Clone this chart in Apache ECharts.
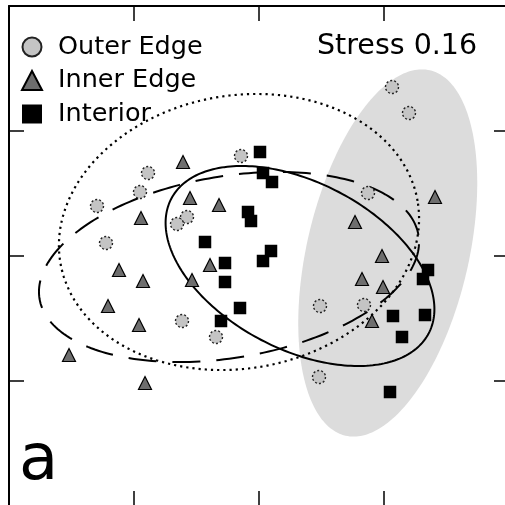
<!DOCTYPE html>
<html><head><meta charset="utf-8">
<script src="https://cdn.jsdelivr.net/npm/echarts@6/dist/echarts.min.js"></script>
<style>html,body{margin:0;padding:0;background:#fff}#c{width:505px;height:505px}</style>
</head><body><div id="c"></div>
<script>
// NMDS ordination scores (axis 1, axis 2)
const outerEdge = [
  [-0.144, 0.80], [-0.888, 0.664], [-0.952, 0.512], [-1.296, 0.40], [-0.576, 0.312],
  [-0.656, 0.256], [-1.224, 0.104], [1.064, 1.352], [1.20, 1.144], [0.872, 0.504],
  [-0.616, -0.52], [-0.344, -0.648], [0.488, -0.40], [0.84, -0.392], [0.48, -0.968]
];
const innerEdge = [
  [-0.608, 0.752], [-0.552, 0.464], [-0.32, 0.408], [-0.944, 0.304], [-1.12, -0.112],
  [-0.928, -0.20], [-0.536, -0.192], [-0.392, -0.072], [-1.208, -0.40], [-0.96, -0.552],
  [-1.52, -0.792], [-0.912, -1.016], [1.408, 0.472], [0.768, 0.272], [0.984, 0.0],
  [0.824, -0.184], [0.992, -0.248], [0.904, -0.52]
];
const interior = [
  [0.008, 0.832], [0.032, 0.664], [0.104, 0.592], [-0.088, 0.352], [-0.064, 0.28],
  [-0.432, 0.112], [-0.272, -0.056], [-0.272, -0.208], [-0.152, -0.416], [-0.304, -0.52],
  [0.032, -0.04], [0.096, 0.04], [1.352, -0.112], [1.312, -0.184], [1.072, -0.48],
  [1.328, -0.472], [1.144, -0.648], [1.048, -1.088]
];
// ellipses: [centre x, centre y, semi-major, semi-minor, angle in degrees]
const ellipseShaded = [1.03, 0.024, 1.50, 0.648, 77];
const ellipseDotted = [-0.16, 0.192, 1.45, 1.092, 9.9];
const ellipseDashed = [-0.24, -0.088, 1.537, 0.726, 9.6];
const ellipseSolid  = [0.328, -0.08, 1.162, 0.668, -27.6];
const seriesNames = ['Outer Edge', 'Inner Edge', 'Interior'];
const axisMin = -2, axisMax = 2, axisStep = 1;
const stressLabel = 'Stress 0.16';
const panelLabel = 'a';

function ellipsePoints(e, n) {
  const [cx, cy, a, b, deg] = e;
  const t = deg * Math.PI / 180, pts = [];
  for (let i = 0; i < n; i++) {
    const s = 2 * Math.PI * i / n;
    const x = a * Math.cos(s), y = b * Math.sin(s);
    pts.push([cx + x * Math.cos(t) - y * Math.sin(t), cy + x * Math.sin(t) + y * Math.cos(t)]);
  }
  return pts;
}
function ellipseSeries(e, style, z) {
  return {
    type: 'custom', coordinateSystem: 'cartesian2d', silent: true, z: z,
    data: [[e[0], e[1]]],
    renderItem: function (params, api) {
      const pts = ellipsePoints(e, 240).map(p => api.coord(p));
      return { type: 'polygon', shape: { points: pts }, style: style };
    }
  };
}
const axisBase = {
  type: 'value', min: axisMin, max: axisMax, interval: axisStep,
  axisLine: { show: true, onZero: false, lineStyle: { color: '#000', width: 2 } },
  axisTick: { show: true, inside: true, length: 15, lineStyle: { color: '#000', width: 1.5 } },
  axisLabel: { show: false }, splitLine: { show: false }
};
const chart = echarts.init(document.getElementById('c'), null, { renderer: 'canvas' });
chart.setOption({
  animation: false,
  backgroundColor: '#fff',
  grid: { left: 9, top: 6, width: 500, height: 500, containLabel: false, outerBoundsMode: 'none' },
  xAxis: [Object.assign({}, axisBase, { position: 'top' }), Object.assign({}, axisBase, { position: 'bottom' })],
  yAxis: [Object.assign({}, axisBase, { position: 'left' }), Object.assign({}, axisBase, { position: 'right' })],
  legend: {
    data: seriesNames, orient: 'vertical', left: 21, top: 34, padding: 0,
    itemWidth: 20, itemHeight: 19, itemGap: 7.5, symbolKeepAspect: true,
    textStyle: { fontFamily: 'DejaVu Sans', fontSize: 25.5, lineHeight: 25, color: '#000', padding: [0, 0, 0, 11] }
  },
  graphic: [
    { type: 'text', left: 317, top: 32, style: { text: stressLabel, font: '28.5px "DejaVu Sans"', fill: '#000' } },
    { type: 'text', left: 19, top: 430, style: { text: panelLabel, font: '64px "DejaVu Sans"', fill: '#000' } }
  ],
  series: [
    ellipseSeries(ellipseShaded, { fill: '#dcdcdc', stroke: null }, 1),
    ellipseSeries(ellipseDotted, { fill: null, stroke: '#000', lineWidth: 2.2, lineDash: [2.2, 4] }, 3),
    ellipseSeries(ellipseDashed, { fill: null, stroke: '#000', lineWidth: 2, lineDash: [28, 16] }, 3),
    ellipseSeries(ellipseSolid, { fill: null, stroke: '#000', lineWidth: 2 }, 3),
    {
      name: seriesNames[0], type: 'scatter', data: outerEdge, symbol: 'circle', symbolSize: 13, z: 5,
      itemStyle: { color: '#c4c4c4', borderColor: '#222', borderWidth: 1.4, borderType: [2, 2], opacity: 1 }
    },
    {
      name: seriesNames[1], type: 'scatter', data: innerEdge, symbol: 'triangle', symbolSize: 13, z: 5,
      itemStyle: { color: '#6e6e6e', borderColor: '#000', borderWidth: 1.2, opacity: 1 }
    },
    {
      name: seriesNames[2], type: 'scatter', data: interior, symbol: 'rect', symbolSize: 12.5, z: 5,
      itemStyle: { color: '#000', borderColor: '#000', borderWidth: 0, opacity: 1 }
    }
  ]
});
</script></body></html>
